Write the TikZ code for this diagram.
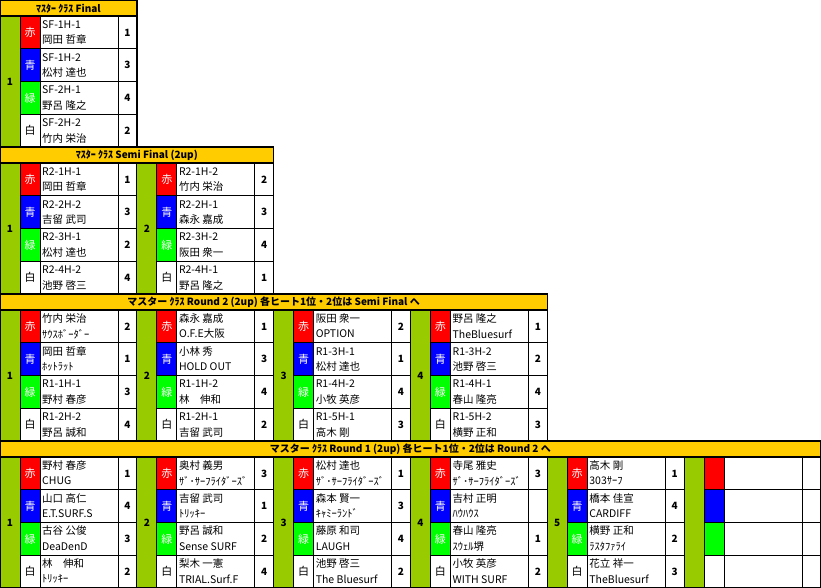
\documentclass[tikz,border=0pt]{standalone}
\usepackage{fontspec}
\setmainfont{Noto Sans CJK JP}
\usetikzlibrary{positioning}

\definecolor{titlebar}{HTML}{FFCC00}
\definecolor{groupgreen}{HTML}{99CC00}
\definecolor{lanered}{HTML}{FF0000}
\definecolor{laneblue}{HTML}{0000FF}
\definecolor{lanegreen}{HTML}{00FF00}

\tikzset{
  cell/.style={draw, line width=0.7pt},
  frame/.style={draw, line width=1.4pt},
  txt/.style={font=\fontsize{10.5}{11}\selectfont, anchor=west, inner sep=0pt},
  lane/.style={font=\fontsize{11}{12}\selectfont, inner sep=0pt},
  num/.style={font=\bfseries\fontsize{10}{11}\selectfont, inner sep=0pt},
  headtxt/.style={font=\bfseries\fontsize{10}{11}\selectfont, inner sep=0pt},
}

\def\bw{136.8}
\def\rh{32.75}

% one heat: group column, lane colours, two text lines and result per lane
\newcommand\heatblock[5]{%
  \draw[cell, fill=groupgreen] (#2,#3) rectangle ++(20,4*\rh);
  \node[num] (#1-g) at (#2+10,#3+2*\rh) {#4};
  \foreach \i/\col/\lab/\labcol in {0/lanered/赤/white, 1/laneblue/青/white, 2/lanegreen/緑/white, 3/white/白/black} {
    \draw[cell, fill=\col] (#2+20,#3+\i*\rh) rectangle ++(20,\rh);
    \node[lane, text=\labcol] (#1-c\i) at (#2+30,#3+\i*\rh+0.5*\rh) {\lab};
  }
  \foreach \lineA/\lineB/\res [count=\i from 0] in {#5} {
    \draw[cell] (#2+40,#3+\i*\rh) rectangle ++(78,\rh);
    \draw[cell] (#2+118,#3+\i*\rh) rectangle ++(18.8,\rh);
    \node[txt] (#1-a\i) at (#2+42,#3+\i*\rh+8.5) {\lineA};
    \node[txt] (#1-b\i) at (#2+42,#3+\i*\rh+24) {\lineB};
    \node[num] (#1-r\i) at (#2+127.4,#3+\i*\rh+0.5*\rh) {\res};
  }
}

\begin{document}
\begin{tikzpicture}[x=1pt, y=-1pt]
\useasboundingbox (0,0) rectangle (821,588);
% title bars
\foreach \sec/\w/\title in {0/1/{ﾏｽﾀｰ ｸﾗｽ Final}, 1/2/{ﾏｽﾀｰ ｸﾗｽ Semi Final (2up)},
    2/4/{マスター ｸﾗｽ Round 2 (2up) 各ヒート1位・2位は Semi Final へ},
    3/6/{マスター ｸﾗｽ Round 1 (2up) 各ヒート1位・2位は Round 2 へ}} {
  \draw[cell, fill=titlebar] (0,\sec*147) rectangle (\w*\bw,\sec*147+16);
  \node[headtxt] (title\sec) at (\w*\bw/2,\sec*147+8.5) {\title};
}

% Final
\heatblock{fin1}{0}{16}{1}{SF-1H-1/岡田 哲章/1, SF-1H-2/松村 達也/3, SF-2H-1/野呂 隆之/4, SF-2H-2/竹内 栄治/2}

% Semi Final
\heatblock{semi1}{0}{163}{1}{R2-1H-1/岡田 哲章/1, R2-2H-2/吉留 武司/3, R2-3H-1/松村 達也/2, R2-4H-2/池野 啓三/4}
\heatblock{semi2}{136.8}{163}{2}{R2-1H-2/竹内 栄治/2, R2-2H-1/森永 嘉成/3, R2-3H-2/阪田 衆一/4, R2-4H-1/野呂 隆之/1}

% Round 2
\heatblock{rtwo1}{0}{310}{1}{竹内 栄治/ｻｳｽﾎﾞｰﾀﾞｰ/2, 岡田 哲章/ﾎｯﾄﾗｯﾄ/1, R1-1H-1/野村 春彦/3, R1-2H-2/野呂 誠和/4}
\heatblock{rtwo2}{136.8}{310}{2}{森永 嘉成/O.F.E大阪/1, 小林 秀/HOLD OUT/3, R1-1H-2/林　伸和/4, R1-2H-1/吉留 武司/2}
\heatblock{rtwo3}{273.6}{310}{3}{阪田 衆一/OPTION/2, R1-3H-1/松村 達也/1, R1-4H-2/小牧 英彦/4, R1-5H-1/高木 剛/3}
\heatblock{rtwo4}{410.4}{310}{4}{野呂 隆之/TheBluesurf/1, R1-3H-2/池野 啓三/2, R1-4H-1/春山 隆亮/4, R1-5H-2/横野 正和/3}

% Round 1
\heatblock{rone1}{0}{457}{1}{野村 春彦/CHUG/1, 山口 高仁/E.T.SURF.S/4, 古谷 公俊/DeaDenD/3, 林　伸和/ﾄﾘｯｷｰ/2}
\heatblock{rone2}{136.8}{457}{2}{奥村 義男/ｻﾞ･ｻｰﾌﾗｲﾀﾞｰｽﾞ/3, 吉留 武司/ﾄﾘｯｷｰ/1, 野呂 誠和/Sense SURF/2, 梨木 一憲/TRIAL.Surf.F/4}
\heatblock{rone3}{273.6}{457}{3}{松村 達也/ｻﾞ･ｻｰﾌﾗｲﾀﾞｰｽﾞ/1, 森本 賢一/ｷｬﾐｰﾗﾝﾄﾞ/3, 藤原 和司/LAUGH/4, 池野 啓三/The Bluesurf/2}
\heatblock{rone4}{410.4}{457}{4}{寺尾 雅史/ｻﾞ･ｻｰﾌﾗｲﾀﾞｰｽﾞ/3, 吉村 正明/ﾊｳﾊｳｽ/, 春山 隆亮/ｽｳｪﾙ堺/1, 小牧 英彦/WITH SURF/2}
\heatblock{rone5}{547.2}{457}{5}{高木 剛/303ｻｰﾌ/1, 橋本 佳宣/CARDIFF/4, 横野 正和/ﾗｽﾀﾌｧﾗｲ/2, 花立 祥一/TheBluesurf/3}
% empty sixth heat
\draw[cell, fill=groupgreen] (684,457) rectangle ++(20,4*\rh);
\foreach \i/\col in {0/lanered, 1/laneblue, 2/lanegreen, 3/white} {
  \draw[cell, fill=\col] (704,457+\i*\rh) rectangle ++(20,\rh);
  \draw[cell] (724,457+\i*\rh) rectangle ++(78,\rh);
  \draw[cell] (802,457+\i*\rh) rectangle (821,457+\i*\rh+\rh);
}

% section frames
\foreach \sec/\w in {0/1, 1/2, 2/4, 3/6} {
  \draw[frame] (0,\sec*147) rectangle (\w*\bw,\sec*147+147);
  \draw[frame] (0,\sec*147+16) -- (\w*\bw,\sec*147+16);
}
\end{tikzpicture}
\end{document}
